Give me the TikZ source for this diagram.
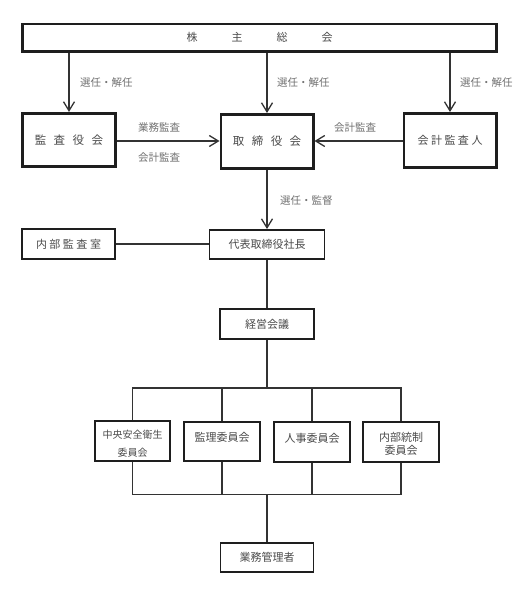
\documentclass[tikz,border=0pt]{standalone}
\usepackage{fontspec}
\setmainfont{Noto Sans CJK JP}
\usetikzlibrary{arrows.meta}
\definecolor{linec}{HTML}{333333}
\definecolor{boxc}{HTML}{1E1E1E}
\definecolor{txtc}{HTML}{4A4A4A}
\definecolor{lblc}{HTML}{707070}
\newcommand{\fs}[1]{\fontsize{#1bp}{#1bp}\selectfont}
\begin{document}
\begin{tikzpicture}[x=1bp,y=-1bp,
  heavybox/.style={draw=boxc, line width=2.7bp, inner sep=0pt, text=txtc},
  lightbox/.style={draw=boxc, line width=1.9bp, inner sep=0pt, text=txtc},
  conn/.style={draw=linec, line width=1.4bp},
  arr/.style={conn, -{Straight Barb[length=9bp,width=11bp,line width=1.3bp]}},
  lbl/.style={inner sep=0pt, anchor=west, text=lblc, font=\fs{10.5}},
  btxt/.style={inner sep=0pt, text=txtc, font=\fs{11}}
]
\useasboundingbox (0,0) rectangle (528,597);

% top box
\node[heavybox, minimum width=474.4bp, minimum height=27.6bp, font=\fs{11}] (top) at (259.5,37.8)
  {株\hspace{34bp}主\hspace{34bp}総\hspace{34bp}会};

% second row
\node[heavybox, minimum width=92.4bp, minimum height=53.4bp, font=\fs{11.5}] (kansa) at (69,140)
  {監\hspace{7.5bp}査\hspace{7.5bp}役\hspace{7.5bp}会};
\node[heavybox, minimum width=92.3bp, minimum height=54.3bp, font=\fs{11.5}] (tori) at (267,141.5)
  {取\hspace{7.5bp}締\hspace{7.5bp}役\hspace{7.5bp}会};
\node[heavybox, minimum width=92.3bp, minimum height=54.3bp, font=\fs{11}] (kaikei) at (450,140.5)
  {会\hspace{2.5bp}計\hspace{2.5bp}監\hspace{2.5bp}査\hspace{2.5bp}人};

% third row
\node[lightbox, minimum width=93bp, minimum height=30bp, font=\fs{11}] (naibu) at (68.5,244)
  {内\hspace{2.5bp}部\hspace{2.5bp}監\hspace{2.5bp}査\hspace{2.5bp}室};
\node[lightbox, minimum width=115bp, minimum height=29bp, font=\fs{11}] (daihyo) at (267,244.5)
  {代表取締役社長};
\node[lightbox, minimum width=94bp, minimum height=30bp, font=\fs{11}] (keiei) at (267,324)
  {経営会議};

% committees
\node[lightbox, minimum width=75bp, minimum height=40bp] (c1) at (132.5,441) {};
\node[lightbox, minimum width=76bp, minimum height=39bp] (c2) at (222,441.5) {};
\node[lightbox, minimum width=76bp, minimum height=40bp] (c3) at (312,442) {};
\node[lightbox, minimum width=76bp, minimum height=40bp] (c4) at (401,442) {};
\node[btxt, font=\fs{10}] (c1a) at (132.5,435) {中央安全衛生};
\node[btxt, font=\fs{10}] (c1b) at (132.5,453) {委員会};
\node[btxt] (c2a) at (222,437) {監理委員会};
\node[btxt] (c3a) at (312,438) {人事委員会};
\node[btxt] (c4a) at (401,437) {内部統制};
\node[btxt] (c4b) at (401,450.5) {委員会};

\node[lightbox, minimum width=93bp, minimum height=29bp, font=\fs{11}] (gyomu) at (267,557.5)
  {業務管理者};

% arrows from top
\draw[arr] (kansa.north |- top.south) -- (kansa.north);
\draw[arr] (tori.north |- top.south) -- (tori.north);
\draw[arr] (kaikei.north |- top.south) -- (kaikei.north);

% horizontal arrows
\draw[arr] (kansa.east |- 0,141) -- (tori.west |- 0,141);
\draw[arr] (kaikei.west |- 0,141) -- (tori.east |- 0,141);

% vertical chain
\draw[arr] (tori.south) -- (daihyo.north);
\draw[conn] (naibu.east) -- (naibu.east -| daihyo.west);
\draw[conn] (daihyo.south) -- (keiei.north);

% buses
\coordinate (b1) at (267,388);
\coordinate (b2) at (267,494.5);
\draw[conn] (keiei.south) -- (b1);
\draw[conn] (c1.north) -- (c1.north |- b1) -- (c4.north |- b1) -- (c4.north);
\draw[conn] (c2.north) -- (c2.north |- b1);
\draw[conn] (c3.north) -- (c3.north |- b1);
\draw[conn] (c1.south) -- (c1.south |- b2) -- (c4.south |- b2) -- (c4.south);
\draw[conn] (c2.south) -- (c2.south |- b2);
\draw[conn] (c3.south) -- (c3.south |- b2);
\draw[conn] (b2) -- (gyomu.north);

% labels
\node[lbl] (l1) at (80,83) {選任・解任};
\node[lbl] (l2) at (277,83) {選任・解任};
\node[lbl] (l3) at (460,83) {選任・解任};
\node[lbl] (l4) at (280,201) {選任・監督};
\node[lbl] (l5) at (138,127.5) {業務監査};
\node[lbl] (l6) at (138,157.5) {会計監査};
\node[lbl] (l7) at (334,128) {会計監査};
\end{tikzpicture}
\end{document}
